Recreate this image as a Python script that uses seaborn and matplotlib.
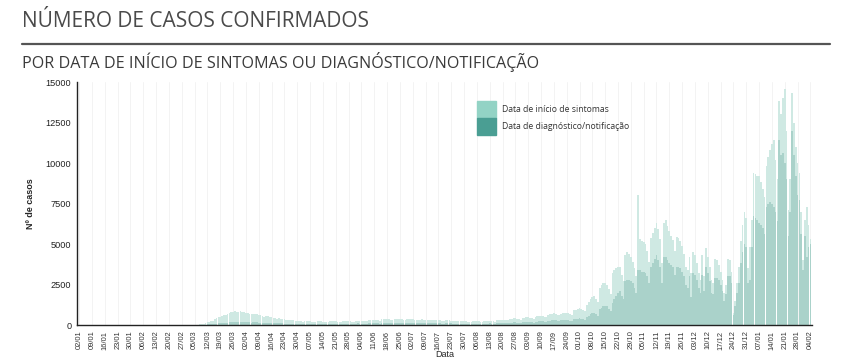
import numpy as np
import pandas as pd
import matplotlib
matplotlib.use("Agg")
import matplotlib.pyplot as plt
import matplotlib.patches as mpatches
import seaborn as sns

# ---------------------------------------------------------------------
# Data: daily cases from 02/03/2020 to 04/02/2021, one row per week (Mon-Sun)
# ---------------------------------------------------------------------
START_AXIS = "2020-01-02"
START_DATA = "2020-03-02"

diagnostico_semanas = [
    [1, 1, 2, 3, 5, 8, 10],
    [15, 20, 30, 40, 50, 55, 60],
    [80, 90, 100, 110, 120, 120, 130],
    [150, 160, 170, 180, 190, 180, 170],
    [200, 190, 180, 180, 170, 160, 150],
    [170, 170, 160, 150, 150, 140, 130],
    [140, 140, 130, 120, 120, 110, 100],
    [110, 100, 100, 90, 90, 80, 80],
    [90, 80, 80, 80, 70, 70, 60],
    [80, 80, 70, 70, 70, 60, 60],
    [80, 80, 70, 70, 70, 60, 60],
    [80, 80, 80, 80, 70, 70, 60],
    [90, 90, 80, 80, 80, 70, 70],
    [90, 100, 90, 90, 90, 80, 80],
    [110, 120, 110, 110, 100, 100, 90],
    [130, 140, 130, 130, 120, 120, 110],
    [140, 150, 140, 130, 130, 120, 120],
    [130, 140, 130, 130, 120, 110, 110],
    [120, 130, 120, 110, 110, 100, 100],
    [110, 110, 110, 100, 100, 90, 90],
    [100, 100, 100, 100, 90, 90, 80],
    [90, 90, 90, 90, 80, 80, 70],
    [80, 80, 90, 90, 80, 80, 70],
    [80, 90, 90, 100, 90, 80, 80],
    [100, 110, 120, 120, 120, 110, 100],
    [140, 150, 160, 160, 150, 140, 130],
    [160, 170, 180, 190, 180, 160, 150],
    [190, 210, 220, 230, 220, 200, 190],
    [240, 260, 280, 290, 280, 250, 240],
    [280, 290, 300, 310, 290, 260, 250],
    [360, 380, 400, 420, 400, 360, 340],
    [500, 580, 660, 720, 740, 660, 580],
    [1000, 1080, 1150, 1200, 1150, 1000, 870],
    [1340, 1600, 1800, 2000, 2100, 1800, 1600],
    [2700, 2800, 2800, 2700, 2600, 2300, 2000],
    [3400, 3400, 3300, 3300, 3200, 3000, 2600],
    [3600, 3800, 4100, 4300, 4000, 3600, 2600],
    [4200, 4200, 4000, 3800, 3700, 3600, 3100],
    [3600, 3600, 3500, 3300, 3000, 2500, 2300],
    [3000, 1750, 3200, 3100, 2800, 2300, 2000],
    [3100, 2100, 3600, 3200, 2700, 2000, 1900],
    [2900, 2900, 2800, 2500, 2100, 1500, 1900],
    [3000, 3000, 2600, 600, 1200, 1960, 2600],
    [3800, 4500, 5000, 4800, 2600, 2780, 4800],
    [6700, 6600, 6500, 6300, 6200, 6000, 5600],
    [7300, 7500, 7600, 7500, 7300, 7000, 6400],
    [11400, 10500, 10600, 10000, 9000, 5500, 7000],
    [12000, 10500, 9200, 8000, 7700, 5600, 3400],
    [5500, 4200, 4800, 5000],
]

sintomas_semanas = [
    [1, 2, 4, 7, 10, 17, 25],
    [45, 70, 90, 120, 150, 175, 200],
    [300, 340, 380, 410, 440, 470, 490],
    [550, 580, 610, 620, 650, 640, 610],
    [660, 630, 600, 580, 570, 540, 500],
    [530, 510, 490, 470, 450, 420, 390],
    [420, 400, 370, 360, 340, 320, 300],
    [320, 300, 280, 270, 240, 220, 200],
    [210, 200, 180, 170, 170, 150, 150],
    [180, 160, 160, 150, 140, 140, 130],
    [160, 150, 150, 140, 130, 130, 120],
    [150, 140, 150, 140, 140, 130, 130],
    [160, 170, 160, 150, 140, 140, 130],
    [170, 170, 170, 160, 150, 150, 140],
    [190, 200, 200, 190, 190, 180, 180],
    [220, 240, 240, 230, 230, 210, 210],
    [240, 250, 250, 240, 230, 220, 210],
    [240, 240, 230, 220, 220, 210, 190],
    [220, 220, 220, 210, 200, 190, 180],
    [190, 200, 190, 190, 180, 170, 160],
    [180, 190, 180, 170, 170, 150, 150],
    [160, 170, 160, 150, 150, 130, 130],
    [130, 150, 150, 150, 150, 130, 120],
    [140, 150, 160, 160, 160, 150, 130],
    [180, 190, 200, 210, 200, 190, 180],
    [240, 250, 250, 260, 250, 230, 210],
    [260, 280, 290, 290, 280, 260, 250],
    [310, 330, 340, 350, 340, 320, 290],
    [380, 390, 420, 430, 420, 390, 360],
    [420, 430, 440, 450, 430, 390, 370],
    [540, 570, 600, 630, 600, 540, 510],
    [730, 820, 940, 1030, 1060, 940, 820],
    [1300, 1370, 1420, 1400, 1350, 1200, 1030],
    [1850, 1800, 1700, 1600, 1500, 1300, 1100],
    [1600, 1720, 1600, 1500, 1300, 1200, 1000],
    [4600, 1900, 1900, 1800, 1800, 1600, 1300],
    [1800, 1870, 1900, 1980, 1900, 1700, 1200],
    [2100, 2290, 2100, 2000, 1800, 1650, 1500],
    [1860, 1800, 1700, 1600, 1400, 1100, 1100],
    [1200, 1450, 1330, 1200, 1000, 900, 780],
    [1200, 900, 1140, 1000, 900, 780, 700],
    [1200, 1100, 900, 800, 700, 460, 600],
    [1100, 1000, 700, 120, 300, 640, 1000],
    [1400, 1700, 2000, 1800, 900, 2060, 1700],
    [2700, 2700, 2700, 2870, 2600, 2400, 2300],
    [2500, 2900, 3200, 3700, 4100, 3200, 2600],
    [2400, 2500, 3400, 4600, 3000, 1600, 2000],
    [2300, 2000, 1800, 2000, 1700, 1400, 600],
    [1000, 3100, 1400, 300],
]

serie_sintomas = "Data de início de sintomas"
serie_diagnostico = "Data de diagnóstico/notificação"

cor_sintomas_barra = "#cfe9e3"
cor_diagnostico_barra = "#aad2ca"
cor_sintomas_legenda = "#93d3c5"
cor_diagnostico_legenda = "#4a9e93"

# ---------------------------------------------------------------------
# Long-format table for seaborn
# ---------------------------------------------------------------------
diagnostico = [v for semana in diagnostico_semanas for v in semana]
sintomas = [v for semana in sintomas_semanas for v in semana]
datas = pd.date_range(START_DATA, periods=len(diagnostico), freq="D")
dia = (datas - pd.Timestamp(START_AXIS)).days

df = pd.concat([
    pd.DataFrame({"dia": dia, "casos": diagnostico, "tipo": serie_diagnostico}),
    pd.DataFrame({"dia": dia, "casos": sintomas, "tipo": serie_sintomas}),
], ignore_index=True)

ticks_datas = pd.date_range(START_AXIS, "2021-02-04", freq="7D")
ticks_dia = (ticks_datas - pd.Timestamp(START_AXIS)).days
ticks_labels = ticks_datas.strftime("%d/%m")

# ---------------------------------------------------------------------
# Figure
# ---------------------------------------------------------------------
sns.set_style("white")
plt.rcParams["font.family"] = ["Liberation Sans", "DejaVu Sans"]

fig = plt.figure(figsize=(8.6, 3.61), dpi=100)
ax = fig.add_axes([0.0895, 0.0997, 0.855, 0.673])

for d in ticks_dia:
    ax.axvline(d, color="#f1f1f1", lw=0.6, zorder=0)

sns.histplot(
    data=df, x="dia", weights="casos", hue="tipo",
    hue_order=[serie_sintomas, serie_diagnostico],
    multiple="stack", discrete=True, shrink=0.95, linewidth=0,
    palette={serie_sintomas: cor_sintomas_barra, serie_diagnostico: cor_diagnostico_barra},
    alpha=1, legend=False, ax=ax, zorder=2,
)

ax.set_xlim(-1.2, 400)
ax.set_ylim(0, 15000)
ax.set_yticks([0, 2500, 5000, 7500, 10000, 12500, 15000])
ax.set_xticks(ticks_dia)
ax.set_xticklabels(ticks_labels, rotation=90, fontsize=5.4, color="#444444")
ax.tick_params(axis="y", labelsize=6.6, colors="#222222", length=2.5, width=0.6, pad=1.5)
ax.tick_params(axis="x", length=2.5, width=0.6, pad=1.5, colors="#333333")
for s in ["top", "right"]:
    ax.spines[s].set_visible(False)
for s in ["left", "bottom"]:
    ax.spines[s].set_color("#222222")
    ax.spines[s].set_linewidth(1.0)

ax.set_ylabel("Nº de casos", fontsize=6.5, fontweight="bold", labelpad=8)
ax.set_xlabel("Data", fontsize=6.5, labelpad=0)

handles = [
    mpatches.Patch(color=cor_sintomas_legenda, label=serie_sintomas),
    mpatches.Patch(color=cor_diagnostico_legenda, label=serie_diagnostico),
]
leg = ax.legend(
    handles=handles, loc="upper left", bbox_to_anchor=(0.54, 0.935),
    frameon=False, fontsize=6.2, handlelength=2.2, handleheight=2.6,
    labelspacing=0, handletextpad=0.6, borderaxespad=0,
)
for t in leg.get_texts():
    t.set_family(["Open Sans", "DejaVu Sans"])
    t.set_color("#333333")

fig.text(0.026, 0.94, "NÚMERO DE CASOS CONFIRMADOS", fontsize=15,
         family=["Open Sans", "DejaVu Sans"], color="#4a4a4a", va="center")
fig.add_artist(plt.Line2D([0.026, 0.965], [0.878, 0.878], color="#555555", lw=1.6))
fig.text(0.026, 0.828, "POR DATA DE INÍCIO DE SINTOMAS OU DIAGNÓSTICO/NOTIFICAÇÃO",
         fontsize=11.6, family=["Open Sans", "DejaVu Sans"], color="#3a3a3a", va="center")

fig.savefig("out.png", dpi=100, facecolor="white")
